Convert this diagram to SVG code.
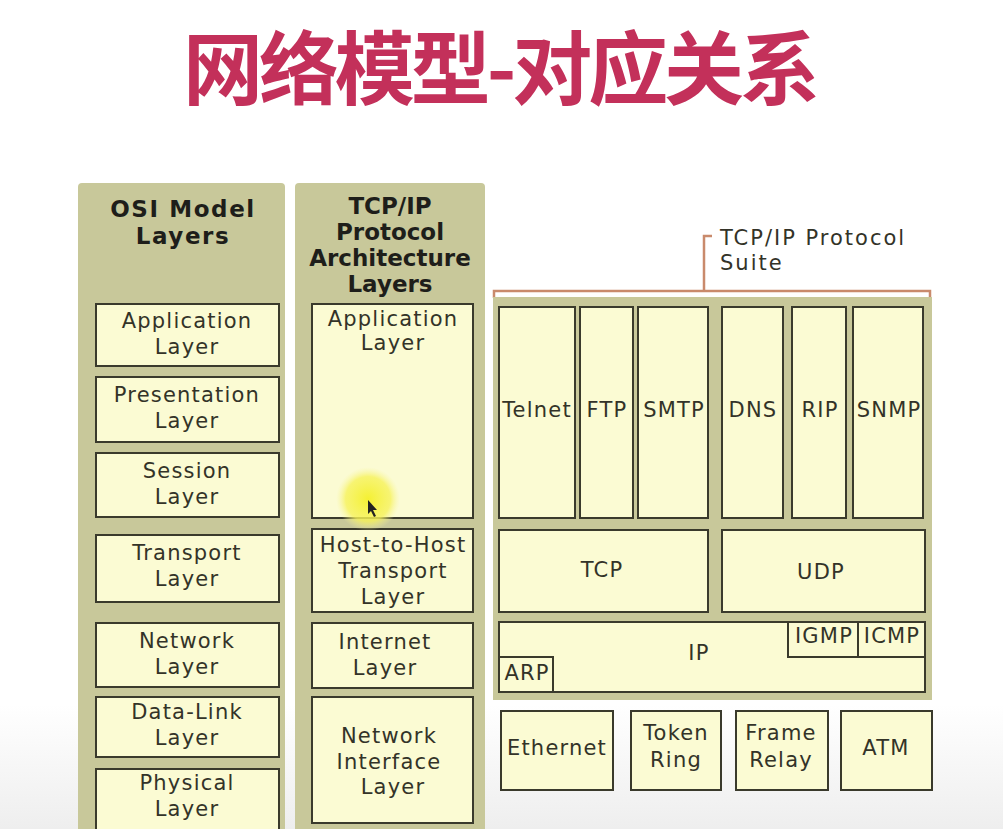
<svg xmlns="http://www.w3.org/2000/svg" width="1003" height="829" viewBox="0 0 1003 829">
  <defs>
    <style>
      .col { fill: #c8c89a; }
      .box { fill: #fbfbd3; stroke: #3a3a2c; stroke-width: 2; }
      .lbl { font-family: "DejaVu Sans", Verdana, sans-serif; font-size: 21px; letter-spacing: 1.2px; fill: #333328; text-anchor: middle; }
      .hdr { font-family: "DejaVu Sans", Verdana, sans-serif; font-size: 23px; font-weight: bold; fill: #1e1e1a; text-anchor: middle; }
      .wide { letter-spacing: 1.6px; }
      .cap { text-anchor: start; letter-spacing: 2px; }
      .title { font-family: "Noto Sans CJK SC", sans-serif; font-size: 80px; font-weight: bold; fill: #c3305a; }
      .brace { fill: none; stroke: #c98a6c; stroke-width: 2.5; }
    </style>
    <radialGradient id="glow">
      <stop offset="0" stop-color="#f4f02a" stop-opacity="0.95"/>
      <stop offset="0.7" stop-color="#f6f25a" stop-opacity="0.8"/>
      <stop offset="1" stop-color="#f8f5a0" stop-opacity="0"/>
    </radialGradient>
    <linearGradient id="bg" x1="0" y1="0" x2="0" y2="1">
      <stop offset="0.85" stop-color="#ffffff"/>
      <stop offset="1" stop-color="#eeeeee"/>
    </linearGradient>
  </defs>

  <rect width="1003" height="829" fill="url(#bg)"/>

  <!-- heading -->
  <text class="title" x="183" y="98" textLength="637" lengthAdjust="spacing">网络模型-对应关系</text>

  <!-- OSI reference model column -->
  <g id="osi">
    <rect class="col" x="78" y="183" width="207" height="660" rx="4"/>
    <text class="hdr wide" x="183" y="217">OSI Model</text>
    <text class="hdr wide" x="183" y="244">Layers</text>
    <g id="osi-application"><rect class="box" x="96" y="304" width="183" height="62"/>
      <text class="lbl" x="187" y="328">Application</text><text class="lbl" x="187" y="354">Layer</text></g>
    <g id="osi-presentation"><rect class="box" x="96" y="377" width="183" height="65"/>
      <text class="lbl" x="187" y="402">Presentation</text><text class="lbl" x="187" y="428">Layer</text></g>
    <g id="osi-session"><rect class="box" x="96" y="453" width="183" height="64"/>
      <text class="lbl" x="187" y="478">Session</text><text class="lbl" x="187" y="504">Layer</text></g>
    <g id="osi-transport"><rect class="box" x="96" y="535" width="183" height="67"/>
      <text class="lbl" x="187" y="560">Transport</text><text class="lbl" x="187" y="586">Layer</text></g>
    <g id="osi-network"><rect class="box" x="96" y="623" width="183" height="64"/>
      <text class="lbl" x="187" y="648">Network</text><text class="lbl" x="187" y="674">Layer</text></g>
    <g id="osi-datalink"><rect class="box" x="96" y="697" width="183" height="60"/>
      <text class="lbl" x="187" y="719">Data-Link</text><text class="lbl" x="187" y="745">Layer</text></g>
    <g id="osi-physical"><rect class="box" x="96" y="769" width="183" height="70"/>
      <text class="lbl" x="187" y="790">Physical</text><text class="lbl" x="187" y="816">Layer</text></g>
  </g>

  <!-- TCP/IP architecture column -->
  <g id="tcpip-arch">
    <rect class="col" x="295" y="183" width="190" height="660" rx="4"/>
    <text class="hdr" x="390" y="214">TCP/IP</text>
    <text class="hdr" x="390" y="240">Protocol</text>
    <text class="hdr" x="390" y="266">Architecture</text>
    <text class="hdr" x="390" y="292">Layers</text>
    <g id="arch-application"><rect class="box" x="312" y="304" width="161" height="214"/>
      <text class="lbl" x="393" y="326">Application</text><text class="lbl" x="393" y="350">Layer</text></g>
    <g id="arch-transport"><rect class="box" x="312" y="529" width="161" height="83"/>
      <text class="lbl" x="393" y="552">Host-to-Host</text><text class="lbl" x="393" y="578">Transport</text><text class="lbl" x="393" y="604">Layer</text></g>
    <g id="arch-internet"><rect class="box" x="312" y="623" width="161" height="65"/>
      <text class="lbl" x="385" y="649">Internet</text><text class="lbl" x="385" y="675">Layer</text></g>
    <g id="arch-netif"><rect class="box" x="312" y="697" width="161" height="126"/>
      <text class="lbl" x="389" y="743">Network</text><text class="lbl" x="389" y="769">Interface</text><text class="lbl" x="393" y="794">Layer</text></g>
  </g>

  <!-- protocol suite bracket and caption -->
  <g id="suite-label">
    <path class="brace" d="M494 298 V291 H930 V298 M704 291 V236 H712"/>
    <text class="lbl cap" x="720" y="245">TCP/IP Protocol</text>
    <text class="lbl cap" x="720" y="270">Suite</text>
  </g>

  <!-- protocol suite panel -->
  <g id="suite">
    <rect class="col" x="493" y="297" width="439" height="403"/>
    <g id="telnet"><rect class="box" x="499" y="307" width="76" height="211"/><text class="lbl" x="537" y="417">Telnet</text></g>
    <g id="ftp"><rect class="box" x="580" y="307" width="53" height="211"/><text class="lbl" x="607" y="417">FTP</text></g>
    <g id="smtp"><rect class="box" x="638" y="307" width="70" height="211"/><text class="lbl" x="674" y="417">SMTP</text></g>
    <g id="dns"><rect class="box" x="722" y="307" width="61" height="211"/><text class="lbl" x="753" y="417">DNS</text></g>
    <g id="rip"><rect class="box" x="792" y="307" width="54" height="211"/><text class="lbl" x="820" y="417">RIP</text></g>
    <g id="snmp"><rect class="box" x="853" y="307" width="70" height="211"/><text class="lbl" x="889" y="417">SNMP</text></g>
    <g id="tcp"><rect class="box" x="499" y="530" width="209" height="82"/><text class="lbl" x="602" y="577">TCP</text></g>
    <g id="udp"><rect class="box" x="722" y="530" width="203" height="82"/><text class="lbl" x="821" y="579">UDP</text></g>
    <g id="ip"><rect class="box" x="499" y="622" width="426" height="70"/><text class="lbl" x="699" y="660">IP</text></g>
    <g id="igmp"><rect class="box" x="788" y="622" width="70" height="35"/><text class="lbl" x="824" y="643">IGMP</text></g>
    <g id="icmp"><rect class="box" x="858" y="622" width="67" height="35"/><text class="lbl" x="892" y="643">ICMP</text></g>
    <g id="arp"><rect class="box" x="499" y="657" width="54" height="35"/><text class="lbl" x="527" y="680">ARP</text></g>
  </g>

  <!-- link technologies -->
  <g id="ethernet"><rect class="box" x="501" y="711" width="112" height="79"/><text class="lbl" x="557" y="755">Ethernet</text></g>
  <g id="token-ring"><rect class="box" x="631" y="711" width="90" height="79"/>
    <text class="lbl" x="676" y="740">Token</text><text class="lbl" x="676" y="767">Ring</text></g>
  <g id="frame-relay"><rect class="box" x="736" y="711" width="92" height="79"/>
    <text class="lbl" x="781" y="740">Frame</text><text class="lbl" x="781" y="767">Relay</text></g>
  <g id="atm"><rect class="box" x="841" y="711" width="91" height="79"/><text class="lbl" x="886" y="755">ATM</text></g>

  <!-- pointer highlight -->
  <g id="pointer">
    <circle cx="368" cy="499" r="32" fill="url(#glow)"/>
    <path d="M368 500 L368 514 L371 511 L374 517 L376 516 L373 510 L377 510 Z" fill="#222"/>
  </g>
</svg>
